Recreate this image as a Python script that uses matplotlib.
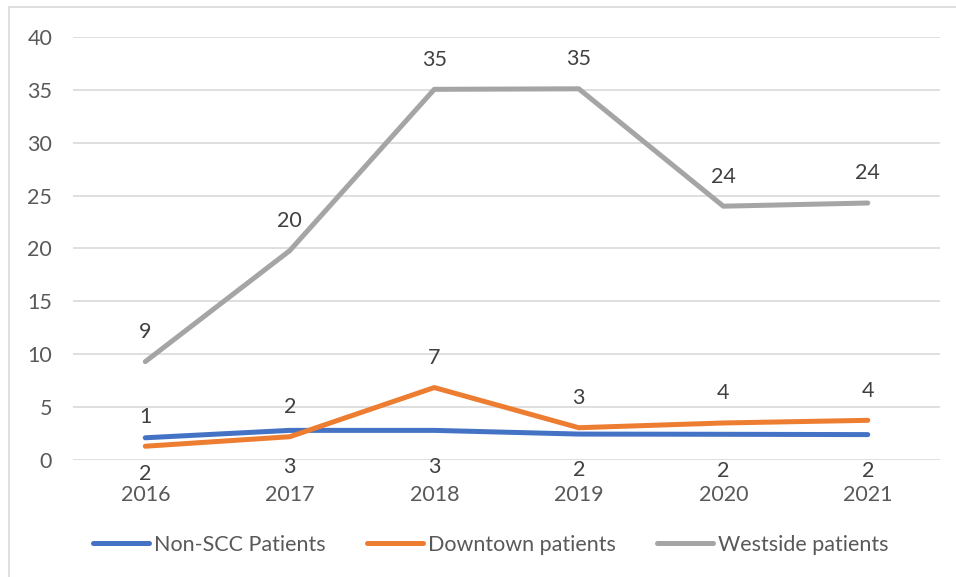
import matplotlib
matplotlib.use("Agg")
import matplotlib.pyplot as plt
from matplotlib.patches import Rectangle

plt.rcParams['font.family'] = ['Lato', 'DejaVu Sans']

years = ['2016', '2017', '2018', '2019', '2020', '2021']
non_scc = [2.1, 2.8, 2.8, 2.45, 2.43, 2.4]
downtown = [1.3, 2.2, 6.85, 3.05, 3.5, 3.75]
westside = [9.3, 19.8, 35.05, 35.1, 24.0, 24.3]

series = [
    ('Non-SCC Patients', non_scc, '#4472C4', 'below'),
    ('Downtown patients', downtown, '#ED7D31', 'above'),
    ('Westside patients', westside, '#A5A5A5', 'above'),
]

txt = '#404040'
tick_col = '#595959'
fs = 15.5

fig = plt.figure(figsize=(9.56, 5.77), dpi=100)
ax = fig.add_axes([0.0764, 0.2028, 0.9069, 0.7331])

# light frame around the chart area
fig.patches.append(Rectangle((9 / 956, -0.1), 1.2, 1 - 7 / 577 + 0.1,
                             transform=fig.transFigure, fill=False,
                             edgecolor='#d9d9d9', linewidth=1.2))

x = list(range(len(years)))
for name, vals, col, pos in series:
    ax.plot(x, vals, color=col, linewidth=3.6, solid_capstyle='round',
            solid_joinstyle='round', label=name)
    for xi, v in zip(x, vals):
        dy = 17 if pos == 'above' else -30.5
        ax.annotate(f'{v:.0f}', (xi, v), xytext=(0, dy), textcoords='offset points',
                    ha='center', va='baseline', fontsize=fs, color=txt)

ax.set_xlim(-0.5, 5.5)
ax.set_ylim(0, 40)
ax.set_yticks(range(0, 41, 5))
ax.set_xticks(x)
ax.set_xticklabels(years)
ax.grid(axis='y', color='#d9d9d9', linewidth=1.2)
ax.set_axisbelow(True)
for s in ax.spines.values():
    s.set_visible(False)
ax.tick_params(axis='both', length=0, labelsize=fs, labelcolor=tick_col)
ax.tick_params(axis='y', pad=15)
ax.tick_params(axis='x', pad=18)

fig.legend(loc='center', bbox_to_anchor=(0.5136, 1 - 545 / 577), ncol=3, frameon=False,
           fontsize=fs, labelcolor=tick_col, handlelength=2.6, handletextpad=0.25,
           columnspacing=1.9)

fig.savefig('out.png', dpi=100)
